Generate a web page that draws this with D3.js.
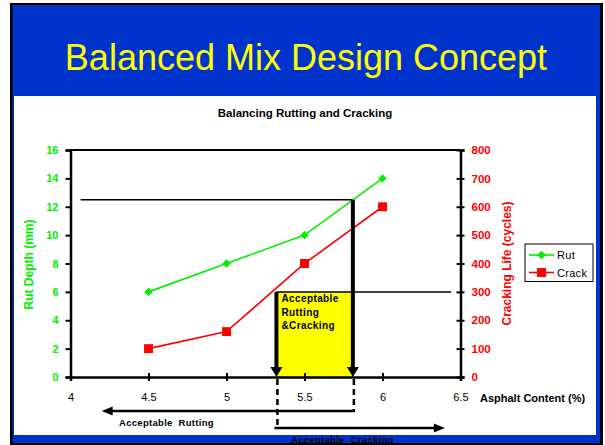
<!DOCTYPE html>
<html>
<head>
<meta charset="utf-8">
<script src="https://cdn.jsdelivr.net/npm/d3@7"></script>
<style>
  html, body { margin: 0; padding: 0; background: #ffffff; }
  svg { display: block; }
  text { font-family: "Liberation Sans", Arial, Helvetica, sans-serif; }
</style>
</head>
<body>
<svg id="chart" width="605" height="445"></svg>
<script>
// Asphalt content (%) at which the mixes were tested
const asphaltContent = [4.5, 5, 5.5, 6];
// Rut depth (mm), left axis
const rutDepth = [6, 8, 10, 14];
// Cracking life (cycles), right axis
const crackLife = [100, 160, 400, 600];

const xTicks = [4, 4.5, 5, 5.5, 6, 6.5];
const rutTicks = [0, 2, 4, 6, 8, 10, 12, 14, 16];
const crackTicks = [0, 100, 200, 300, 400, 500, 600, 700, 800];

// Criteria: maximum rut depth and minimum cracking life
const rutLimit = 12.5;
const crackLimit = 300;
// Asphalt content window that satisfies both criteria
const balanceRange = [5.32, 5.81];
// Extent of the criterion guide lines along the x axis
const rutGuideStart = 4.065;
const crackGuideEnd = 6.44;
// Extent of the "acceptable" arrows below the axis
const rutArrowEnd = 4.2;
const crackArrowEnd = 6.4;

const GREEN = "#00ee00";
const RED = "#ff0000";
const BLUE = "#0033cc";

const svg = d3.select("#chart");

// Slide frame
svg.append("rect").attr("x", 10).attr("y", 3).attr("width", 593).attr("height", 442).attr("fill", "#000");
svg.append("rect").attr("x", 12.5).attr("y", 5).attr("width", 587.5).attr("height", 438).attr("fill", BLUE);
svg.append("rect").attr("x", 14).attr("y", 96).attr("width", 582).attr("height", 339).attr("fill", "#fff");

svg.append("text")
  .attr("x", 306).attr("y", 70)
  .attr("text-anchor", "middle")
  .attr("fill", "#ffff00")
  .style("font-size", "36px")
  .text("Balanced Mix Design Concept");

svg.append("text")
  .attr("x", 305).attr("y", 117)
  .attr("text-anchor", "middle")
  .attr("fill", "#000")
  .style("font-size", "11.5px").style("font-weight", "bold")
  .text("Balancing Rutting and Cracking");

// Scales
const x = d3.scaleLinear().domain([4, 6.5]).range([70.5, 460.5]);
const yL = d3.scaleLinear().domain([0, 16]).range([377, 150]);
const yR = d3.scaleLinear().domain([0, 800]).range([377, 150]);

const plot = svg.append("g");

// Acceptable window (yellow)
plot.append("rect")
  .attr("x", x(balanceRange[0])).attr("y", yR(crackLimit))
  .attr("width", x(balanceRange[1]) - x(balanceRange[0]))
  .attr("height", yR(0) - yR(crackLimit))
  .attr("fill", "#ffff00");

// Frame line at the top of the plot
plot.append("line")
  .attr("x1", x(4)).attr("x2", x(6.5))
  .attr("y1", yL(16)).attr("y2", yL(16))
  .attr("stroke", "#000").attr("stroke-width", 2);

// Axes
const axisLeft = d3.axisLeft(yL).tickValues(rutTicks).tickSize(5).tickPadding(7).tickFormat(d3.format("d"));
const gL = plot.append("g").attr("transform", `translate(${x(4)},0)`).call(axisLeft);
gL.select(".domain").attr("stroke", "#000").attr("stroke-width", 2.5);
gL.selectAll(".tick line").attr("stroke", "#000").attr("stroke-width", 2);
gL.selectAll(".tick text").attr("fill", GREEN).style("font-size", "11px").style("font-weight", "bold")
  .attr("font-family", null);

const axisRight = d3.axisRight(yR).tickValues(crackTicks).tickSize(4).tickPadding(7).tickFormat(d3.format("d"));
const gR = plot.append("g").attr("transform", `translate(${x(6.5)},0)`).call(axisRight);
gR.select(".domain").attr("stroke", "#000").attr("stroke-width", 2.5);
gR.selectAll(".tick line").attr("x1", -4).attr("x2", 4).attr("stroke", "#000").attr("stroke-width", 2);
gR.selectAll(".tick text").attr("fill", RED).style("font-size", "11.5px").style("font-weight", "bold")
  .attr("font-family", null);

const axisBottom = d3.axisBottom(x).tickValues(xTicks).tickSize(4).tickPadding(12).tickFormat(d => String(d));
const gB = plot.append("g").attr("transform", `translate(0,${yL(0)})`).call(axisBottom);
gB.select(".domain").attr("stroke", "#000").attr("stroke-width", 2.5);
gB.selectAll(".tick line").attr("y1", -4).attr("y2", 4).attr("stroke", "#000").attr("stroke-width", 2);
gB.selectAll(".tick text").attr("fill", "#000").style("font-size", "11px").attr("font-family", null);

// Axis titles
svg.append("text")
  .attr("transform", `translate(33,${(yL(0) + yL(16)) / 2 + 1}) rotate(-90)`)
  .attr("text-anchor", "middle")
  .attr("fill", GREEN)
  .style("font-size", "12px").style("font-weight", "bold")
  .text("Rut Depth (mm)");

svg.append("text")
  .attr("transform", `translate(511,${(yR(0) + yR(800)) / 2}) rotate(-90)`)
  .attr("text-anchor", "middle")
  .attr("fill", RED)
  .style("font-size", "12px").style("font-weight", "bold")
  .text("Cracking Life (cycles)");

svg.append("text")
  .attr("x", 480).attr("y", 402)
  .attr("fill", "#000")
  .style("font-size", "11px").style("font-weight", "bold")
  .text("Asphalt Content (%)");

// Criterion guide lines
plot.append("line")
  .attr("x1", x(rutGuideStart)).attr("x2", x(balanceRange[1]))
  .attr("y1", yL(rutLimit)).attr("y2", yL(rutLimit))
  .attr("stroke", "#000").attr("stroke-width", 1.5);
plot.append("line")
  .attr("x1", x(balanceRange[0])).attr("x2", x(crackGuideEnd))
  .attr("y1", yR(crackLimit)).attr("y2", yR(crackLimit))
  .attr("stroke", "#000").attr("stroke-width", 1.5);

// Series lines and markers
const lineL = d3.line().x((d, i) => x(asphaltContent[i])).y(d => yL(d));
const lineR = d3.line().x((d, i) => x(asphaltContent[i])).y(d => yR(d));

plot.append("path").datum(rutDepth).attr("d", lineL)
  .attr("fill", "none").attr("stroke", GREEN).attr("stroke-width", 1.6);
plot.append("path").datum(crackLife).attr("d", lineR)
  .attr("fill", "none").attr("stroke", RED).attr("stroke-width", 1.6);

const diamond = d3.symbol().type(d3.symbolDiamond2).size(46);
const square = d3.symbol().type(d3.symbolSquare).size(80);

plot.selectAll(".rut-pt").data(rutDepth).join("path")
  .attr("class", "rut-pt")
  .attr("transform", (d, i) => `translate(${x(asphaltContent[i])},${yL(d)})`)
  .attr("d", diamond).attr("fill", GREEN);
plot.selectAll(".crack-pt").data(crackLife).join("path")
  .attr("class", "crack-pt")
  .attr("transform", (d, i) => `translate(${x(asphaltContent[i])},${yR(d)})`)
  .attr("d", square).attr("fill", RED);

// Vertical arrows down to the axis
function downArrow(xv, yTop) {
  const xp = x(xv);
  const yBot = yL(0);
  plot.append("line")
    .attr("x1", xp).attr("x2", xp).attr("y1", yTop).attr("y2", yBot - 8)
    .attr("stroke", "#000").attr("stroke-width", 4);
  plot.append("path")
    .attr("d", `M${xp - 6},${yBot - 10} L${xp + 6},${yBot - 10} L${xp},${yBot} Z`)
    .attr("fill", "#000");
}
downArrow(balanceRange[0], yR(crackLimit));
downArrow(balanceRange[1], yL(rutLimit));

// Label inside the acceptable window
const boxLabel = plot.append("text")
  .attr("fill", "#000")
  .style("font-size", "10px").style("font-weight", "bold").style("letter-spacing", "0.4px");
["Acceptable", "Rutting", "&Cracking"].forEach((t, i) => {
  boxLabel.append("tspan").attr("x", x(balanceRange[0]) + 5).attr("y", yR(crackLimit) + 10 + i * 13.7).text(t);
});

// Dashed drop lines below the axis
plot.append("line")
  .attr("x1", x(balanceRange[0]) + 1).attr("x2", x(balanceRange[0]) + 1)
  .attr("y1", yL(0) + 2).attr("y2", 428)
  .attr("stroke", "#000").attr("stroke-width", 2.5).attr("stroke-dasharray", "6,4");
plot.append("line")
  .attr("x1", x(balanceRange[1]) + 1).attr("x2", x(balanceRange[1]) + 1)
  .attr("y1", yL(0) + 2).attr("y2", 411)
  .attr("stroke", "#000").attr("stroke-width", 2.5).attr("stroke-dasharray", "6,4");

// Horizontal "acceptable" arrows
function hArrow(x1, x2, yp) {
  const dir = Math.sign(x2 - x1);
  plot.append("line")
    .attr("x1", x1).attr("x2", x2 - dir * 8).attr("y1", yp).attr("y2", yp)
    .attr("stroke", "#000").attr("stroke-width", 2.5);
  plot.append("path")
    .attr("d", `M${x2 - dir * 11},${yp - 4.5} L${x2 - dir * 11},${yp + 4.5} L${x2},${yp} Z`)
    .attr("fill", "#000");
}
hArrow(x(balanceRange[1]) + 2, x(rutArrowEnd), 411);
hArrow(x(balanceRange[0]) - 2, x(crackArrowEnd), 428);

svg.append("text")
  .attr("x", 119).attr("y", 426)
  .style("white-space", "pre")
  .attr("fill", "#000")
  .style("font-size", "9.5px").style("font-weight", "bold").style("letter-spacing", "0.3px")
  .text("Acceptable  Rutting");

svg.append("text")
  .attr("x", 291).attr("y", 443)
  .style("white-space", "pre")
  .attr("fill", "#000")
  .style("font-size", "9.5px").style("font-weight", "bold").style("letter-spacing", "0.3px")
  .text("Acceptable  Cracking");

// Legend
const legend = svg.append("g").attr("transform", "translate(525,244)");
legend.append("rect").attr("width", 68).attr("height", 37.5)
  .attr("fill", "#fff").attr("stroke", "#000").attr("stroke-width", 1);
const items = [
  { name: "Rut", color: GREEN, sym: diamond },
  { name: "Crack", color: RED, sym: square }
];
items.forEach((it, i) => {
  const yy = 11 + i * 17.5;
  legend.append("line").attr("x1", 4).attr("x2", 29).attr("y1", yy).attr("y2", yy)
    .attr("stroke", it.color).attr("stroke-width", 1.6);
  legend.append("path").attr("transform", `translate(16.5,${yy})`).attr("d", it.sym).attr("fill", it.color);
  legend.append("text").attr("x", 32).attr("y", yy + 4)
    .attr("fill", "#000").style("font-size", "11px").style("letter-spacing", "0.3px").text(it.name);
});
</script>
</body>
</html>
